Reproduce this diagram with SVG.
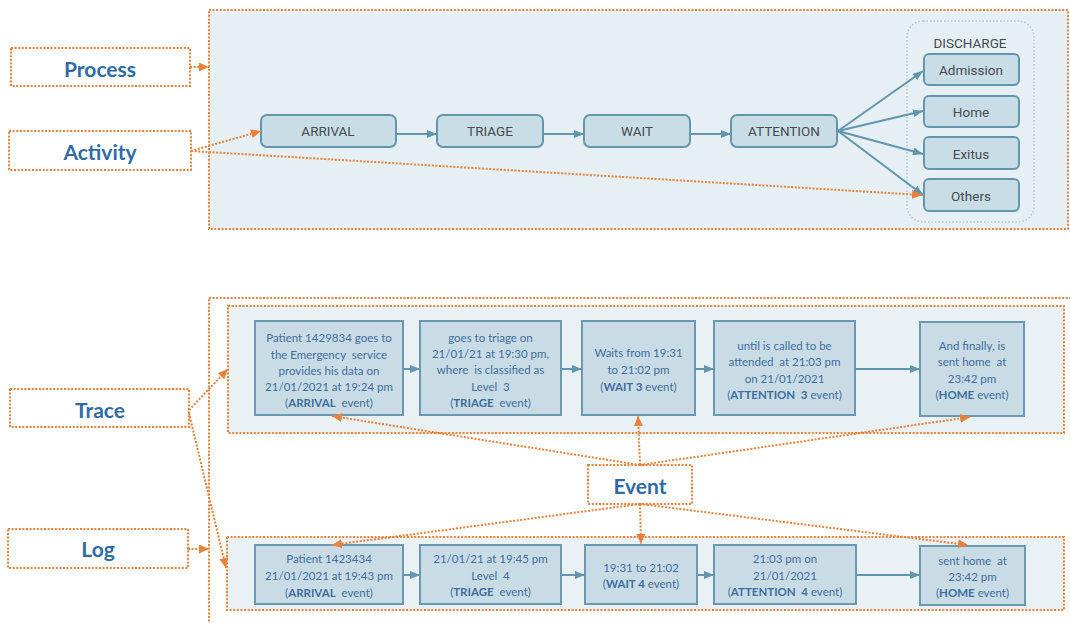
<svg xmlns="http://www.w3.org/2000/svg" width="1070" height="623" viewBox="0 0 1070 623">
  <style>
    .dot { fill: none; stroke: #E8813A; stroke-width: 2; stroke-dasharray: 2 1.6; }
    .panel { fill: #E6EFF3; stroke: #E8813A; stroke-width: 2; stroke-dasharray: 2 1.6; }
    .label { fill: #FFFFFF; stroke: #E8813A; stroke-width: 2; stroke-dasharray: 2 1.6; }
    .label-text { font-family: Lato, "Liberation Sans", sans-serif; font-weight: bold; font-size: 21px; fill: #2F6CA6; text-anchor: middle; dominant-baseline: central; }
    .step { fill: #C9DDE6; stroke: #6497AF; stroke-width: 2; }
    .step-text { font-family: Roboto, "Liberation Sans", sans-serif; font-size: 13.5px; fill: #474B50; text-anchor: middle; dominant-baseline: central; }
    .ev { fill: #C9DCE6; stroke: #6A9AB2; stroke-width: 2; }
    .ev-text { font-family: Lato, "Liberation Sans", sans-serif; font-size: 11.5px; fill: #3D6E9E; text-anchor: middle; dominant-baseline: central; white-space: pre; }
    .ev-text .b { font-weight: bold; }
    .flow { fill: none; stroke: #6097AF; stroke-width: 2; }
    .link { fill: none; stroke: #E8813A; stroke-width: 2; stroke-dasharray: 2 1.6; }
  </style>
  <defs>
    <marker id="blueHead" markerUnits="userSpaceOnUse" markerWidth="10" markerHeight="8" refX="10" refY="4" orient="auto">
      <path d="M0,0 L10,4 L0,8 z" fill="#6097AF"/>
    </marker>
    <marker id="orangeHead" markerUnits="userSpaceOnUse" markerWidth="10" markerHeight="9" refX="10" refY="4.5" orient="auto">
      <path d="M0,0 L10,4.5 L0,9 z" fill="#E8813A"/>
    </marker>
  </defs>

  <rect width="1070" height="623" fill="#FFFFFF"/>

  <!-- process panel -->
  <rect id="process-panel" class="panel" x="209" y="10" width="859" height="219"/>

  <!-- discharge grouping -->
  <g id="discharge">
    <rect x="907" y="21" width="127" height="201" rx="16" fill="none" stroke="#B3C9D3" stroke-width="1.5" stroke-dasharray="1.5 2"/>
    <text class="step-text" x="970" y="43" font-size="12.5">DISCHARGE</text>
  </g>

  <!-- trace / log panels -->
  <rect id="outer-panel" class="dot" x="209" y="298" width="880" height="360"/>
  <rect id="trace-panel" class="panel" x="228" y="306" width="836" height="127" style="fill:#E9F1F5"/>
  <rect id="log-panel" class="panel" x="227" y="537" width="837" height="73" style="fill:#E9F1F5"/>

  <!-- concept labels -->
  <g id="label-process"><rect class="label" x="11" y="48" width="179" height="38"/><text class="label-text" x="100" y="68">Process</text></g>
  <g id="label-activity"><rect class="label" x="9" y="131" width="182" height="39"/><text class="label-text" x="100" y="151">Activity</text></g>
  <g id="label-trace"><rect class="label" x="10" y="389" width="179" height="38"/><text class="label-text" x="100" y="409">Trace</text></g>
  <g id="label-log"><rect class="label" x="8" y="529" width="180" height="39"/><text class="label-text" x="98" y="548">Log</text></g>
  <g id="label-event"><rect class="label" x="588" y="465" width="104" height="39"/><text class="label-text" x="640" y="485">Event</text></g>

  <!-- process steps -->
  <g id="arrival"><rect class="step" x="261" y="115" width="135" height="32" rx="6"/><text class="step-text" x="328" y="131">ARRIVAL</text></g>
  <g id="triage"><rect class="step" x="437" y="115" width="106" height="32" rx="6"/><text class="step-text" x="490" y="131">TRIAGE</text></g>
  <g id="wait"><rect class="step" x="584" y="115" width="106" height="32" rx="6"/><text class="step-text" x="637" y="131">WAIT</text></g>
  <g id="attention"><rect class="step" x="731" y="115" width="106" height="32" rx="6"/><text class="step-text" x="784" y="131">ATTENTION</text></g>
  <g id="admission"><rect class="step" x="924" y="54" width="95" height="31" rx="5"/><text class="step-text" x="971" y="70">Admission</text></g>
  <g id="home"><rect class="step" x="924" y="96" width="95" height="31" rx="5"/><text class="step-text" x="971" y="112">Home</text></g>
  <g id="exitus"><rect class="step" x="924" y="137" width="95" height="32" rx="5"/><text class="step-text" x="971" y="154">Exitus</text></g>
  <g id="others"><rect class="step" x="924" y="179" width="95" height="32" rx="5"/><text class="step-text" x="971" y="196">Others</text></g>

  <!-- trace events -->
  <g id="t-arrival"><rect class="ev" x="255" y="321" width="148" height="94"/>
    <text class="ev-text"><tspan x="329" y="337">Patient 1429834 goes to</tspan><tspan x="329" y="353.5">the Emergency  service</tspan><tspan x="329" y="370">provides his data on</tspan><tspan x="329" y="386">21/01/2021 at 19:24 pm</tspan><tspan x="329" y="402">(<tspan class="b">ARRIVAL</tspan>  event)</tspan></text></g>
  <g id="t-triage"><rect class="ev" x="420" y="321" width="141" height="94"/>
    <text class="ev-text"><tspan x="490.5" y="337">goes to triage on</tspan><tspan x="490.5" y="353">21/01/21 at 19:30 pm,</tspan><tspan x="490.5" y="369">where  is classified as</tspan><tspan x="490.5" y="386">Level  3</tspan><tspan x="490.5" y="402">(<tspan class="b">TRIAGE</tspan>  event)</tspan></text></g>
  <g id="t-wait"><rect class="ev" x="582" y="321" width="113" height="94"/>
    <text class="ev-text"><tspan x="638.5" y="352">Waits from 19:31</tspan><tspan x="638.5" y="369">to 21:02 pm</tspan><tspan x="638.5" y="386">(<tspan class="b">WAIT 3</tspan> event)</tspan></text></g>
  <g id="t-attention"><rect class="ev" x="714" y="321" width="141" height="94"/>
    <text class="ev-text"><tspan x="784.5" y="345">until is called to be</tspan><tspan x="784.5" y="361">attended  at 21:03 pm</tspan><tspan x="784.5" y="378">on 21/01/2021</tspan><tspan x="784.5" y="394">(<tspan class="b">ATTENTION  3</tspan> event)</tspan></text></g>
  <g id="t-home"><rect class="ev" x="920" y="322" width="104" height="94"/>
    <text class="ev-text"><tspan x="972" y="345">And finally, is</tspan><tspan x="972" y="361">sent home  at</tspan><tspan x="972" y="378">23:42 pm</tspan><tspan x="972" y="394">(<tspan class="b">HOME</tspan> event)</tspan></text></g>

  <!-- log events -->
  <g id="l-arrival"><rect class="ev" x="255" y="545" width="148" height="59"/>
    <text class="ev-text"><tspan x="329" y="558">Patient 1423434</tspan><tspan x="329" y="575">21/01/2021 at 19:43 pm</tspan><tspan x="329" y="592">(<tspan class="b">ARRIVAL</tspan>  event)</tspan></text></g>
  <g id="l-triage"><rect class="ev" x="420" y="545" width="141" height="59"/>
    <text class="ev-text"><tspan x="490.5" y="558">21/01/21 at 19:45 pm</tspan><tspan x="490.5" y="575">Level  4</tspan><tspan x="490.5" y="591">(<tspan class="b">TRIAGE</tspan>  event)</tspan></text></g>
  <g id="l-wait"><rect class="ev" x="585" y="545" width="112" height="59"/>
    <text class="ev-text"><tspan x="641" y="567">19:31 to 21:02</tspan><tspan x="641" y="583">(<tspan class="b">WAIT 4</tspan> event)</tspan></text></g>
  <g id="l-attention"><rect class="ev" x="714" y="545" width="142" height="59"/>
    <text class="ev-text"><tspan x="785" y="558">21:03 pm on</tspan><tspan x="785" y="575">21/01/2021</tspan><tspan x="785" y="591">(<tspan class="b">ATTENTION  4</tspan> event)</tspan></text></g>
  <g id="l-home"><rect class="ev" x="920" y="546" width="105" height="59"/>
    <text class="ev-text"><tspan x="972.5" y="560">sent home  at</tspan><tspan x="972.5" y="576">23:42 pm</tspan><tspan x="972.5" y="592">(<tspan class="b">HOME</tspan> event)</tspan></text></g>

  <g id="connectors">
    <!-- process flow -->
    <line class="flow" x1="396" y1="134" x2="437" y2="134" marker-end="url(#blueHead)"/>
    <line class="flow" x1="543" y1="134" x2="584" y2="134" marker-end="url(#blueHead)"/>
    <line class="flow" x1="690" y1="134" x2="731" y2="134" marker-end="url(#blueHead)"/>
    <line class="flow" x1="838" y1="131" x2="923" y2="71" marker-end="url(#blueHead)"/>
    <line class="flow" x1="838" y1="131" x2="923" y2="111" marker-end="url(#blueHead)"/>
    <line class="flow" x1="838" y1="131" x2="923" y2="154" marker-end="url(#blueHead)"/>
    <line class="flow" x1="838" y1="131" x2="923" y2="195" marker-end="url(#blueHead)"/>
    <!-- trace flow -->
    <line class="flow" x1="403" y1="369" x2="420" y2="369" marker-end="url(#blueHead)"/>
    <line class="flow" x1="561" y1="369" x2="582" y2="369" marker-end="url(#blueHead)"/>
    <line class="flow" x1="695" y1="369" x2="714" y2="369" marker-end="url(#blueHead)"/>
    <line class="flow" x1="855" y1="369" x2="920" y2="369" marker-end="url(#blueHead)"/>
    <!-- log flow -->
    <line class="flow" x1="403" y1="575" x2="420" y2="575" marker-end="url(#blueHead)"/>
    <line class="flow" x1="561" y1="575" x2="585" y2="575" marker-end="url(#blueHead)"/>
    <line class="flow" x1="697" y1="575" x2="714" y2="575" marker-end="url(#blueHead)"/>
    <line class="flow" x1="856" y1="575" x2="920" y2="575" marker-end="url(#blueHead)"/>
    <!-- concept links -->
    <line class="link" x1="190" y1="67" x2="209" y2="67" marker-end="url(#orangeHead)"/>
    <line class="link" x1="191" y1="151" x2="261" y2="131" marker-end="url(#orangeHead)"/>
    <line class="link" x1="191" y1="151" x2="922" y2="195" marker-end="url(#orangeHead)"/>
    <line class="link" x1="189" y1="410" x2="228" y2="369" marker-end="url(#orangeHead)"/>
    <line class="link" x1="189" y1="413" x2="226" y2="568" marker-end="url(#orangeHead)"/>
    <line class="link" x1="188" y1="549" x2="209" y2="549" marker-end="url(#orangeHead)"/>
    <line class="link" x1="640" y1="465" x2="332" y2="416" marker-end="url(#orangeHead)"/>
    <line class="link" x1="640" y1="465" x2="638" y2="416" marker-end="url(#orangeHead)"/>
    <line class="link" x1="640" y1="465" x2="970" y2="417" marker-end="url(#orangeHead)"/>
    <line class="link" x1="640" y1="504" x2="332" y2="545" marker-end="url(#orangeHead)"/>
    <line class="link" x1="640" y1="504" x2="641" y2="544" marker-end="url(#orangeHead)"/>
    <line class="link" x1="640" y1="504" x2="968" y2="545" marker-end="url(#orangeHead)"/>
  </g>
</svg>
